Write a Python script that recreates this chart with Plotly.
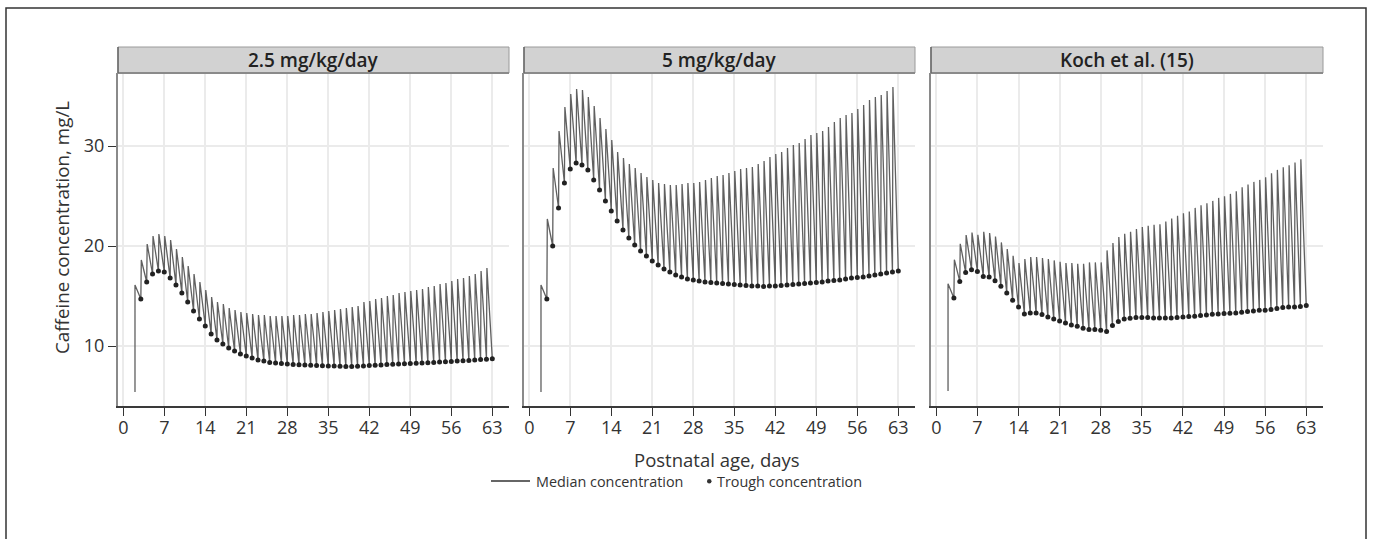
import plotly.graph_objects as go

# ---------------- data ----------------
panel_titles = ["2.5 mg/kg/day", "5 mg/kg/day", "Koch et al. (15)"]
x_ticks = [0, 7, 14, 21, 28, 35, 42, 49, 56, 63]
y_ticks = [10, 20, 30]
legend_labels = ["Median concentration", "Trough concentration"]

first_dose_day = 2
dose_days = list(range(2, 63))      # 61 doses (day 2 .. day 62)
trough_days = list(range(3, 64))    # 61 troughs (day 3 .. day 63)
PEAK_OFFSET = 0.08                  # time after dose at which the peak is reached (days)

start_conc = [5.4, 5.4, 5.5]

peaks_25 = [16.1, 18.6, 20.2, 21.0, 21.2, 21.0, 20.6, 19.7, 18.9, 18.0,
            17.2, 16.4, 15.6, 14.9, 14.4, 14.2, 13.8, 13.6, 13.4, 13.3,
            13.2, 13.1, 13.1, 13.0, 13.0, 13.0, 13.0, 13.1, 13.1, 13.2,
            13.2, 13.3, 13.4, 13.5, 13.6, 13.7, 13.8, 13.9, 14.0, 14.4,
            14.5, 14.7, 14.8, 15.0, 15.1, 15.3, 15.4, 15.5, 15.6, 15.7,
            15.9, 16.0, 16.2, 16.3, 16.5, 16.7, 16.8, 17.0, 17.2, 17.5,
            17.8]
troughs_25 = [14.7, 16.4, 17.2, 17.5, 17.4, 16.8, 16.1, 15.3, 14.4, 13.5,
              12.7, 12.0, 11.2, 10.6, 10.2, 9.8, 9.5, 9.2, 9.0, 8.8,
              8.6, 8.5, 8.35, 8.3, 8.25, 8.2, 8.15, 8.12, 8.1, 8.08,
              8.05, 8.03, 8.0, 8.0, 7.98, 7.95, 7.95, 7.97, 8.0, 8.05,
              8.08, 8.1, 8.15, 8.18, 8.2, 8.22, 8.25, 8.27, 8.3, 8.33,
              8.36, 8.4, 8.42, 8.45, 8.5, 8.53, 8.56, 8.6, 8.65, 8.68,
              8.72]

peaks_5 = [16.1, 22.7, 27.8, 31.5, 33.9, 35.2, 35.7, 35.6, 34.9, 34.0,
           32.8, 31.7, 30.6, 29.4, 28.8, 28.2, 27.8, 27.3, 26.9, 26.6,
           26.3, 26.2, 26.1, 26.1, 26.2, 26.3, 26.3, 26.4, 26.6, 26.8,
           27.0, 27.1, 27.3, 27.5, 27.7, 27.8, 27.9, 28.2, 28.5, 28.9,
           29.2, 29.4, 29.8, 30.1, 30.3, 30.7, 31.1, 31.3, 31.5, 31.9,
           32.4, 32.8, 33.1, 33.3, 33.7, 34.1, 34.6, 34.9, 35.1, 35.5,
           35.9]
troughs_5 = [14.7, 20.0, 23.8, 26.3, 27.7, 28.3, 28.1, 27.6, 26.6, 25.6,
             24.5, 23.5, 22.5, 21.6, 20.8, 20.1, 19.5, 19.0, 18.5, 18.1,
             17.7, 17.4, 17.1, 16.9, 16.7, 16.6, 16.5, 16.4, 16.35, 16.3,
             16.25, 16.2, 16.15, 16.1, 16.05, 16.0, 16.0, 15.95, 16.0, 16.0,
             16.05, 16.1, 16.15, 16.2, 16.25, 16.3, 16.35, 16.4, 16.5, 16.55,
             16.6, 16.7, 16.8, 16.85, 16.9, 17.0, 17.1, 17.2, 17.3, 17.4,
             17.5]

peaks_koch = [16.23, 18.63, 20.22, 21.09, 21.35, 21.12, 21.42, 21.29, 20.95, 20.36,
              19.69, 19.03, 18.29, 18.69, 18.89, 18.89, 18.79, 18.69, 18.56, 18.43,
              18.29, 18.29, 18.23, 18.23, 18.36, 18.36, 18.36, 19.56, 20.29, 20.89,
              21.22, 21.42, 21.69, 21.89, 22.02, 22.12, 22.18, 22.45, 22.75, 23.02,
              23.28, 23.45, 23.81, 24.08, 24.28, 24.51, 24.81, 24.98, 25.21, 25.48,
              25.88, 26.14, 26.41, 26.61, 26.87, 27.27, 27.61, 27.87, 28.07, 28.34,
              28.67]
troughs_koch = [14.80, 16.46, 17.36, 17.63, 17.46, 16.96, 16.90, 16.53, 15.97, 15.30,
                14.57, 13.90, 13.21, 13.31, 13.31, 13.14, 12.91, 12.71, 12.51, 12.31,
                12.11, 11.98, 11.78, 11.64, 11.64, 11.58, 11.44, 12.04, 12.44, 12.71,
                12.77, 12.84, 12.84, 12.84, 12.81, 12.81, 12.81, 12.81, 12.84, 12.91,
                12.94, 12.97, 13.04, 13.11, 13.17, 13.21, 13.24, 13.27, 13.31, 13.37,
                13.44, 13.51, 13.57, 13.57, 13.64, 13.74, 13.84, 13.90, 13.90, 13.94,
                14.04]

peaks_all = [peaks_25, peaks_5, peaks_koch]
troughs_all = [troughs_25, troughs_5, troughs_koch]

# ---------------- figure ----------------
W, H = 1373, 539
LINE_COLOR = "#606060"
DOT_COLOR = "#222222"
TXT = "#333333"
FONT = "Open Sans"

panel_px = [(118, 509), (524, 915), (931, 1323)]
plot_top, plot_bot = 73, 406
head_top = 47

def px_x(p):
    return p / W

def px_y(p):
    return 1 - p / H

fig = go.Figure()

for i in range(3):
    xs = [first_dose_day]
    ys = [start_conc[i]]
    pk = peaks_all[i]
    tr = troughs_all[i]
    for k, d in enumerate(dose_days):
        xs.append(d + (0 if k == 0 else PEAK_OFFSET))
        ys.append(pk[k])
        xs.append(trough_days[k])
        ys.append(tr[k])
    ax = "" if i == 0 else str(i + 1)
    fig.add_trace(go.Scatter(
        x=xs, y=ys, mode="lines", name=legend_labels[0],
        line=dict(color=LINE_COLOR, width=1.3),
        xaxis="x" + ax, yaxis="y" + ax, showlegend=False, hoverinfo="skip"))
    fig.add_trace(go.Scatter(
        x=trough_days, y=tr, mode="markers", name=legend_labels[1],
        marker=dict(color=DOT_COLOR, size=5),
        xaxis="x" + ax, yaxis="y" + ax, showlegend=False, hoverinfo="skip"))

layout = dict(
    width=W, height=H,
    margin=dict(l=0, r=0, t=0, b=0),
    paper_bgcolor="white", plot_bgcolor="white",
    font=dict(family=FONT, size=18, color=TXT),
    showlegend=False,
)

for i in range(3):
    sfx = "" if i == 0 else str(i + 1)
    layout["xaxis" + sfx] = dict(
        domain=[px_x(panel_px[i][0]), px_x(panel_px[i][1])],
        range=[-0.9, 65.85], anchor="y" + sfx,
        tickmode="array", tickvals=x_ticks, ticktext=[str(t) for t in x_ticks],
        ticks="outside", ticklen=8, tickwidth=1.3, tickcolor="#333333",
        showline=True, linecolor="#3a3a3a", linewidth=1.5,
        showgrid=True, gridcolor="#ebebeb", gridwidth=1.8,
        zeroline=False, tickfont=dict(size=18, color=TXT, family=FONT),
        ticklabelstandoff=-3,
    )
    layout["yaxis" + sfx] = dict(
        domain=[px_y(plot_bot), px_y(plot_top)],
        range=[4, 37.3], anchor="x" + sfx,
        tickmode="array", tickvals=y_ticks, ticktext=[str(t) for t in y_ticks],
        ticks="outside" if i == 0 else "", ticklen=8, tickwidth=1.3, tickcolor="#333333",
        showticklabels=(i == 0),
        showline=True, linecolor="#8a8a8a", linewidth=2,
        showgrid=True, gridcolor="#ebebeb", gridwidth=1.8,
        zeroline=False, tickfont=dict(size=18, color=TXT, family=FONT),
    )
    if i > 0:
        layout["yaxis" + sfx]["matches"] = "y"

fig.update_layout(**layout)

shapes = []
annotations = []
for i in range(3):
    x0, x1 = panel_px[i]
    shapes.append(dict(type="rect", xref="paper", yref="paper",
                       x0=px_x(x0), x1=px_x(x1), y0=px_y(plot_top), y1=px_y(head_top),
                       fillcolor="#d2d2d2", line=dict(color="#9a9a9a", width=1), layer="above"))
    shapes.append(dict(type="line", xref="paper", yref="paper",
                       x0=px_x(x0), x1=px_x(x1), y0=px_y(plot_top), y1=px_y(plot_top),
                       line=dict(color="#8a8a8a", width=2), layer="above"))
    shapes.append(dict(type="line", xref="paper", yref="paper",
                       x0=px_x(x0), x1=px_x(x0), y0=px_y(plot_top), y1=px_y(head_top),
                       line=dict(color="#666666", width=1.5), layer="above"))
    annotations.append(dict(text=panel_titles[i], xref="paper", yref="paper",
                            x=px_x((x0 + x1) / 2), y=px_y((head_top + plot_top) / 2),
                            xanchor="center", yanchor="middle", showarrow=False,
                            font=dict(size=19, color="#222222", family=FONT, weight=600)))

# outer frame
shapes.append(dict(type="rect", xref="paper", yref="paper",
                   x0=px_x(6), x1=px_x(1366), y0=px_y(560), y1=px_y(8),
                   line=dict(color="#333333", width=1.5), fillcolor="rgba(0,0,0,0)"))

# axis titles
annotations.append(dict(text="Postnatal age, days", xref="paper", yref="paper",
                        x=px_x(717), y=px_y(459), xanchor="center", yanchor="middle",
                        showarrow=False, font=dict(size=18.5, color=TXT, family=FONT)))
annotations.append(dict(text="Caffeine concentration, mg/L", xref="paper", yref="paper",
                        x=px_x(62), y=px_y(228), xanchor="center", yanchor="middle",
                        textangle=-90, showarrow=False,
                        font=dict(size=18.8, color=TXT, family=FONT)))

# legend (drawn manually to match the reference spacing)
LEG_Y = 481
shapes.append(dict(type="line", xref="paper", yref="paper",
                   x0=px_x(491), x1=px_x(530), y0=px_y(LEG_Y), y1=px_y(LEG_Y),
                   line=dict(color="#333333", width=1.5)))
annotations.append(dict(text=legend_labels[0], xref="paper", yref="paper",
                        x=px_x(534), y=px_y(LEG_Y), xanchor="left", yanchor="middle",
                        showarrow=False, font=dict(size=14.4, color=TXT, family=FONT)))
shapes.append(dict(type="circle", xref="paper", yref="paper",
                   x0=px_x(707), x1=px_x(711.5), y0=px_y(483.5), y1=px_y(479),
                   fillcolor="#333333", line=dict(width=0)))
annotations.append(dict(text=legend_labels[1], xref="paper", yref="paper",
                        x=px_x(715), y=px_y(LEG_Y), xanchor="left", yanchor="middle",
                        showarrow=False, font=dict(size=14.4, color=TXT, family=FONT)))

fig.update_layout(shapes=shapes, annotations=annotations)
fig.write_html("out.html", config={"displayModeBar": False},
               post_script="document.body.style.margin='0';")
